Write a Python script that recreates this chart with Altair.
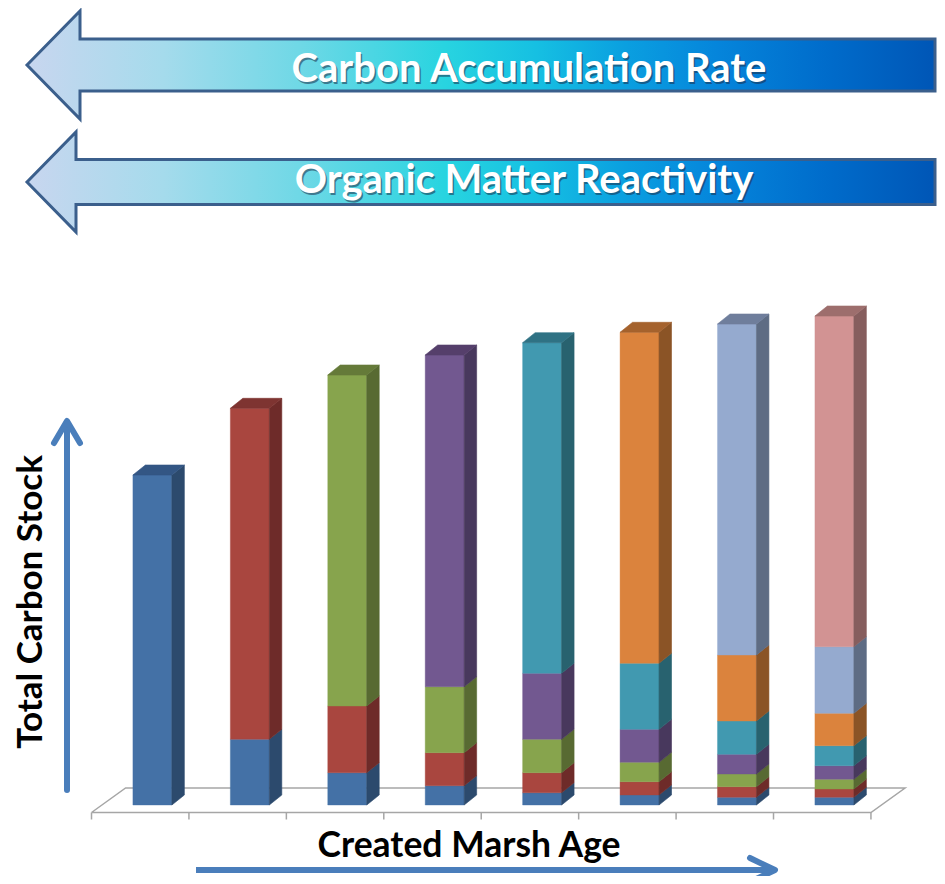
import altair as alt
import pandas as pd

# ---------------- data ----------------
marsh_ages = ["Age 1", "Age 2", "Age 3", "Age 4", "Age 5", "Age 6", "Age 7", "Age 8"]
cohort_names = ["Cohort 1", "Cohort 2", "Cohort 3", "Cohort 4",
                "Cohort 5", "Cohort 6", "Cohort 7", "Cohort 8"]
cohort_1 = [330.0, 65.7, 32.3, 19.3, 12.3, 10.0, 7.7, 7.7]
cohort_2 = [None, 331.0, 66.7, 33.0, 20.0, 13.3, 10.6, 8.3]
cohort_3 = [None, None, 331.0, 66.0, 33.4, 19.4, 12.7, 9.7]
cohort_4 = [None, None, None, 331.7, 66.0, 33.0, 19.7, 13.6]
cohort_5 = [None, None, None, None, 330.6, 66.0, 33.3, 20.0]
cohort_6 = [None, None, None, None, None, 331.0, 66.0, 32.4]
cohort_7 = [None, None, None, None, None, None, 331.0, 66.6]
cohort_8 = [None, None, None, None, None, None, None, 330.7]
cohorts = [cohort_1, cohort_2, cohort_3, cohort_4, cohort_5, cohort_6, cohort_7, cohort_8]

front_colors = ["#4471a6", "#a9463f", "#87a44d", "#725890", "#4199b0", "#db833d", "#95aacf", "#d29393"]
side_colors = ["#2c4a6d", "#6e2b29", "#586a32", "#48385d", "#28626f", "#8b5426", "#5e6c84", "#865e5e"]
top_colors = ["#335684", "#7e3431", "#657a39", "#553f6b", "#2f7284", "#a5622d", "#6f7e9c", "#9d6e6d"]

# ---------------- geometry of the pseudo-3D bars ----------------
HALF = 0.2     # half width of the bar front (category units)
DX = 0.128     # depth, horizontal (category units)
DY = 10.0      # depth, vertical (value units)

front_rows, side_rows, top_rows = [], [], []
seg = 0
for i, age in enumerate(marsh_ages):
    base = 0.0
    last = None
    for k, series in enumerate(cohorts):
        v = series[i]
        if v is None:
            continue
        lo, hi = base, base + v
        front_rows.append({"x": i - HALF, "x2": i + HALF, "lo": lo, "hi": hi,
                           "c": front_colors[k], "age": age, "cohort": cohort_names[k]})
        side_rows.append({"seg": seg, "x": i + HALF, "lo": lo, "hi": hi, "c": side_colors[k]})
        side_rows.append({"seg": seg, "x": i + HALF + DX, "lo": lo + DY, "hi": hi + DY, "c": side_colors[k]})
        seg += 1
        base = hi
        last = k
    t = base
    for xx, lo, hi in [(i - HALF, t, t), (i - HALF + DX, t, t + DY),
                       (i + HALF, t, t + DY), (i + HALF + DX, t + DY, t + DY)]:
        top_rows.append({"bar": i, "x": xx, "lo": lo, "hi": hi, "c": top_colors[last]})

front_df = pd.DataFrame(front_rows)
side_df = pd.DataFrame(side_rows)
top_df = pd.DataFrame(top_rows)

n = len(marsh_ages)
FX = -0.625            # floor front-left, category units
FBX, FBY, FFY = 0.35, 17.0, -7.5
floor_df = pd.DataFrame([
    {"k": 0, "x": FX, "y": FFY},
    {"k": 1, "x": FX + n, "y": FFY},
    {"k": 2, "x": FX + n + FBX, "y": FBY},
    {"k": 3, "x": FX + FBX, "y": FBY},
    {"k": 4, "x": FX, "y": FFY},
])
tick_df = pd.DataFrame({"x": [FX + j for j in range(n + 1)], "y": FFY, "y2": FFY - 7})

W, H = 929, 868
PX = 97.43                      # pixels per category
X0 = 144.4                      # pixel of category 0
xs = alt.Scale(domain=[-X0 / PX, (W - X0) / PX], nice=False, zero=False)
ys = alt.Scale(domain=[797 - H, 797], nice=False, zero=False)

floor = alt.Chart(floor_df).mark_line(color="#a6a6a6", strokeWidth=1.5).encode(
    x=alt.X("x:Q", scale=xs, axis=None),
    y=alt.Y("y:Q", scale=ys, axis=None),
    order="k:Q",
)
ticks = alt.Chart(tick_df).mark_rule(color="#a6a6a6", strokeWidth=1.5).encode(
    x=alt.X("x:Q", scale=xs, axis=None),
    y=alt.Y("y:Q", scale=ys, axis=None),
    y2="y2:Q",
)
front = alt.Chart(front_df).mark_rect(strokeWidth=0.4).encode(
    x=alt.X("x:Q", scale=xs, axis=None),
    x2="x2:Q",
    y=alt.Y("lo:Q", scale=ys, axis=None),
    y2="hi:Q",
    color=alt.Color("c:N", scale=None),
    stroke=alt.Stroke("c:N", scale=None),
)
side = alt.Chart(side_df).mark_area(strokeWidth=0.6, opacity=1).encode(
    x=alt.X("x:Q", scale=xs, axis=None),
    y=alt.Y("lo:Q", scale=ys, axis=None, stack=None),
    y2="hi:Q",
    color=alt.Color("c:N", scale=None),
    stroke=alt.Stroke("c:N", scale=None),
    detail="seg:N",
)
top = alt.Chart(top_df).mark_area(strokeWidth=0.6, opacity=1).encode(
    x=alt.X("x:Q", scale=xs, axis=None),
    y=alt.Y("lo:Q", scale=ys, axis=None, stack=None),
    y2="hi:Q",
    color=alt.Color("c:N", scale=None),
    stroke=alt.Stroke("c:N", scale=None),
    detail="bar:N",
)

# ---------------- decorations: banner arrows, axis arrows, titles ----------------
one = pd.DataFrame({"k": [0]})
grad = alt.LinearGradient(
    gradient="linear", x1=0, y1=0, x2=1, y2=0,
    stops=[
        alt.GradientStop(offset=0.0, color="#c8d6ef"),
        alt.GradientStop(offset=0.15, color="#a5dbec"),
        alt.GradientStop(offset=0.3, color="#6fd8e6"),
        alt.GradientStop(offset=0.46, color="#28d4e0"),
        alt.GradientStop(offset=0.56, color="#16c0e2"),
        alt.GradientStop(offset=0.66, color="#0a9fe0"),
        alt.GradientStop(offset=0.76, color="#0585db"),
        alt.GradientStop(offset=0.88, color="#006ccb"),
        alt.GradientStop(offset=1.0, color="#0056b6"),
    ],
)


def banner(tip_x, tip_y, head_x, head_half, shaft_half, right_x):
    path = (f"M {tip_x} {tip_y} L {head_x} {tip_y - head_half} L {head_x} {tip_y - shaft_half} "
            f"L {right_x} {tip_y - shaft_half} L {right_x} {tip_y + shaft_half} "
            f"L {head_x} {tip_y + shaft_half} L {head_x} {tip_y + head_half} Z")
    return alt.Chart(one).mark_point(
        shape=path, size=4, filled=True, fill=grad, stroke="#3b5f8c",
        strokeWidth=3, opacity=1, strokeJoin="miter",
    ).encode(x=alt.value(0), y=alt.value(0))


def label(txt, x, y, size):
    shadow = alt.Chart(one).mark_text(
        text=txt, font="Lato", fontWeight="bold", fontSize=size, color="#1c2f4a",
        opacity=0.55, align="center", baseline="alphabetic",
    ).encode(x=alt.value(x + 1.5), y=alt.value(y + 2))
    main = alt.Chart(one).mark_text(
        text=txt, font="Lato", fontWeight="bold", fontSize=size, color="white",
        align="center", baseline="alphabetic",
    ).encode(x=alt.value(x), y=alt.value(y))
    return [shadow, main]


banner1 = banner(19, 57, 72, 54, 26, 927)
banner2 = banner(19, 174, 68, 50, 22.5, 927)
labels = label("Carbon Accumulation Rate", 521, 74, 40) + label("Organic Matter Reactivity", 516, 185, 40)

ARROW = "#4a7ebb"
y_shaft = alt.Chart(one).mark_rule(color=ARROW, strokeWidth=6, strokeCap="round").encode(
    x=alt.value(59), y=alt.value(782), y2=alt.value(415))
y_head = alt.Chart(one).mark_point(
    shape="M -13 22 L 0 0 L 13 22", size=4, filled=False, stroke=ARROW, strokeWidth=6,
    strokeCap="round", strokeJoin="round", opacity=1,
).encode(x=alt.value(59), y=alt.value(413))
x_shaft = alt.Chart(one).mark_rule(color=ARROW, strokeWidth=6, strokeCap="butt").encode(
    x=alt.value(188), x2=alt.value(765), y=alt.value(862))
x_head = alt.Chart(one).mark_point(
    shape="M -25 -12 L 0 0 L -25 12", size=4, filled=False, stroke=ARROW, strokeWidth=6,
    strokeCap="round", strokeJoin="round", opacity=1,
).encode(x=alt.value(767), y=alt.value(862))

y_title = alt.Chart(one).mark_text(
    text="Total Carbon Stock", font="Lato", fontWeight="bold", fontSize=35, color="black",
    angle=270, align="center", baseline="middle",
).encode(x=alt.value(23), y=alt.value(594))
x_title = alt.Chart(one).mark_text(
    text="Created Marsh Age", font="Lato", fontWeight="bold", fontSize=35.5, color="black",
    align="center", baseline="alphabetic",
).encode(x=alt.value(461), y=alt.value(849))

chart = alt.layer(
    floor, ticks, front, side, top,
    banner1, banner2, *labels,
    y_shaft, y_head, x_shaft, x_head, y_title, x_title,
).properties(
    width=W, height=H, padding=0,
    autosize=alt.AutoSizeParams(type="none"),
).configure_view(stroke=None)

chart.save("out.html", embed_options={"renderer": "svg", "actions": False})
